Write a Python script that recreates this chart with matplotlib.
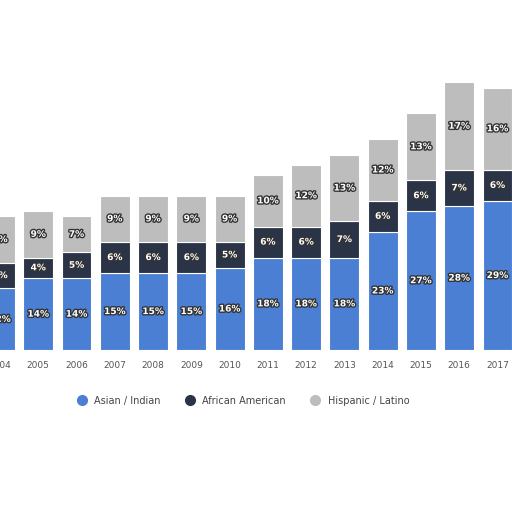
import matplotlib
matplotlib.use("Agg")
import matplotlib.pyplot as plt
import matplotlib.patheffects as pe
from matplotlib.lines import Line2D
import numpy as np

years = ["2004","2005","2006","2007","2008","2009","2010","2011","2012","2013","2014","2015","2016","2017"]
asian = [12,14,14,15,15,15,16,18,18,18,23,27,28,29]
african = [5,4,5,6,6,6,5,6,6,7,6,6,7,6]
hispanic = [9,9,7,9,9,9,9,10,12,13,12,13,17,16]

colors = ["#4a7fd4", "#2b3446", "#bdbdbd"]
names = ["Asian / Indian", "African American", "Hispanic / Latino"]

fig = plt.figure(figsize=(5.12,5.12), dpi=100)
ax = fig.add_axes([0,0.316,1,0.684])
x = np.arange(len(years))
bottom = np.zeros(len(years))
for vals, c, n in zip([asian, african, hispanic], colors, names):
    v = np.array(vals)
    ax.bar(x, v, 0.78, bottom=bottom, color=c, label=n, edgecolor="white", linewidth=0.8)
    for xi, b, h in zip(x, bottom, v):
        ax.text(xi, b+h/2, f"{h}%", ha="center", va="center", fontsize=6.5, fontweight="bold",
                color="white", path_effects=[pe.withStroke(linewidth=2, foreground="#333333")])
    bottom += v
ax.set_xlim(0.078, 13.38)
ax.set_ylim(0, 68)
ax.set_xticks(x)
ax.set_xticklabels(years, fontsize=6.5, color="#555555")
ax.tick_params(length=0, pad=8)
ax.set_yticks([])
for s in ax.spines.values():
    s.set_visible(False)
handles = [Line2D([], [], marker="o", linestyle="", markersize=7, color=c) for c in colors]
fig.legend(handles, names, loc="center", bbox_to_anchor=(0.47, 0.217), ncol=3, frameon=False, fontsize=7,
           handletextpad=0.3, labelcolor="#444444")
fig.savefig("out.png", dpi=100)
